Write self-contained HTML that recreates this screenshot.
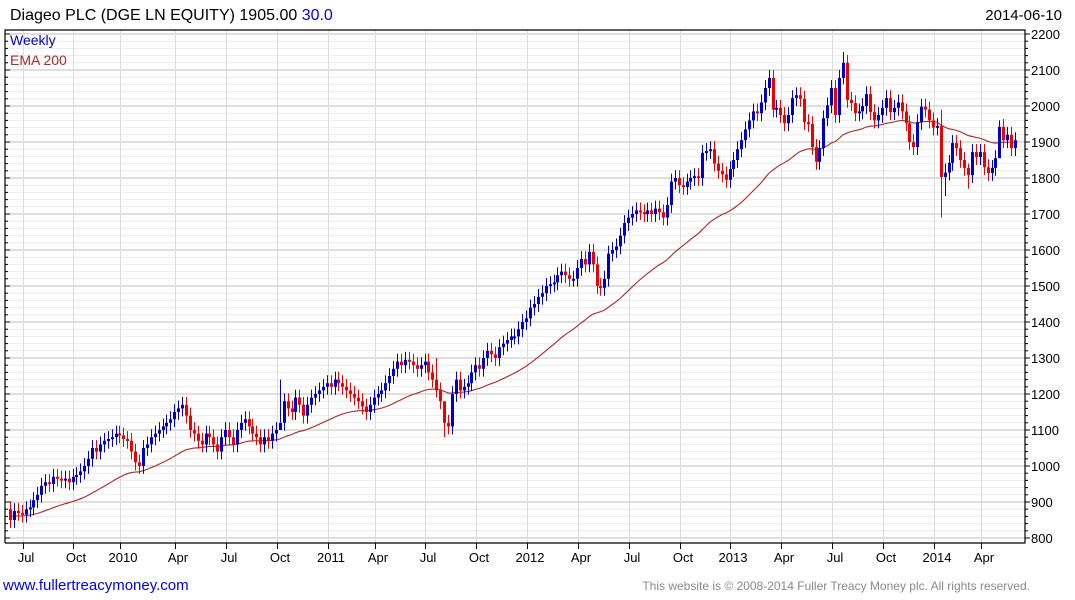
<!DOCTYPE html>
<html><head><meta charset="utf-8"><style>
body{margin:0;background:#fff;font-family:"Liberation Sans",sans-serif;}
#wrap{position:relative;width:1075px;height:600px;overflow:hidden;}
svg text{font-family:"Liberation Sans",sans-serif;}
</style></head><body>
<div id="wrap">
<svg id="chart" width="1075" height="600">
<text x="10" y="20" font-size="16" fill="#000">Diageo PLC (DGE LN EQUITY) 1905.00 <tspan fill="#0000ee">30.0</tspan></text>
<text x="1062" y="20" font-size="15" text-anchor="end" fill="#000">2014-06-10</text>
<g id="grid"></g><g id="ema"></g><g id="candles"></g><g id="axes"></g>
<text x="10" y="45" font-size="14" fill="#0000cc">Weekly</text>
<text x="10" y="65" font-size="14" fill="#a52a2a">EMA 200</text>
<text x="3" y="590" font-size="15" fill="#0000ee">www.fullertreacymoney.com</text>
<text x="1030" y="590" font-size="12" text-anchor="end" fill="#888">This website is © 2008-2014 Fuller Treacy Money plc. All rights reserved.</text>
</svg></div>
<script>
const closes=[850,875,870,865,880,885,905,920,945,955,950,970,965,
960,965,955,970,975,985,1000,1020,1050,1040,1060,1070,1075,
1080,1090,1085,1075,1070,1040,1010,1000,1050,1060,1080,1090,1100,
1110,1120,1130,1150,1160,1170,1140,1100,1090,1070,1060,1090,1080,
1060,1040,1080,1100,1080,1060,1100,1120,1130,1110,1090,1080,1060,
1080,1070,1090,1100,1120,1180,1160,1150,1190,1170,1140,1170,1190,
1200,1210,1220,1230,1220,1240,1230,1220,1210,1200,1190,1180,1165,
1150,1170,1190,1200,1210,1230,1250,1270,1290,1280,1295,1290,1280,
1270,1280,1290,1260,1240,1210,1180,1120,1110,1200,1240,1210,1220,
1230,1260,1280,1270,1300,1320,1310,1300,1330,1340,1350,1360,1360,
1380,1400,1410,1440,1450,1470,1480,1500,1505,1510,1530,1540,1530,1520,1520,1550,1575,1560,1595,1560,
1500,1495,1520,1590,1600,1610,1640,1675,1690,1700,1710,1705,1700,1710,1700,1715,1705,1690,1725,1790,
1800,1780,1775,1790,1800,1805,1800,1870,1875,1880,1840,1820,1810,1795,1825,1850,1880,1905,1935,1960,
1985,1980,2010,2050,2078,1990,1995,1975,1952,1975,2022,2030,2020,1955,1950,1886,1845,1883,1966,2002,
2050,1975,2078,2120,2017,2008,1980,1985,2000,2033,1983,1960,1975,1995,2022,1983,1995,2010,1985,1952,
1900,1886,1955,1998,1990,1960,1940,1945,1803,1815,1842,1897,1883,1850,1828,1808,1872,1858,1872,1830,
1814,1828,1855,1942,1905,1920,1883,1905];
const firstOpen=880;
const spikeIdx=[69,109,111,213,238,239,245,253];
const spikeHigh=[1240,1300,1150,2150,1990,1840,1840,1960];
const spikeLow=[1120,1190,1080,2060,1690,1750,1770,1860];
const yTicks=[800,900,1000,1100,1200,1300,1400,1500,1600,1700,1800,1900,2000,2100,2200];
const xLabels=["Jul","Oct","2010","Apr","Jul","Oct","2011","Apr","Jul","Oct","2012","Apr","Jul","Oct","2013","Apr","Jul","Oct","2014","Apr"];
const xLabelWeek=[4,17,29,43,56,69,82,94,107,120,133,146,159,172,185,198,211,224,237,249];
const emaPeriod=40;

const NS="http://www.w3.org/2000/svg";
const L=5,R=1025,T=30,B=543;
const y=v=>34+(2200-v)*0.36;
const x=i=>10+i*(1015-10)/(closes.length-1);
function mk(tag,attrs,parent){const e=document.createElementNS(NS,tag);for(const k in attrs)e.setAttribute(k,attrs[k]);parent.appendChild(e);return e;}
const grid=document.getElementById('grid'),axes=document.getElementById('axes'),cg=document.getElementById('candles'),eg=document.getElementById('ema');
for(let v=800;v<=2200;v+=20){
  const l=mk('line',{x1:L,x2:R,y1:y(v),y2:y(v),stroke:v%100===0?'#bdbdbd':'#ebebeb','stroke-width':1},grid);
  
  
  const t=mk('line',{x1:R,x2:R+(v%100===0?5:3),y1:y(v),y2:y(v),stroke:'#000'},axes);
  
  
  const t2=mk('line',{x1:L,x2:L+(v%100===0?5:3),y1:y(v),y2:y(v),stroke:'#000'},axes);
  
  
}
yTicks.forEach(v=>{const t=mk('text',{x:R+6,y:y(v)+5,'font-size':13,fill:'#000'},axes);t.textContent=v;
  
  });
xLabels.forEach((s,k)=>{const xx=Math.round(x(xLabelWeek[k]))-3;
  const g=mk('line',{x1:xx+.5,x2:xx+.5,y1:T,y2:B,stroke:'#dcdcdc'},grid);
  
  
  const tk=mk('line',{x1:xx+.5,x2:xx+.5,y1:B,y2:B+6,stroke:'#000'},axes);
  
  
  const t=mk('text',{x:xx+3,y:B+19,'font-size':13,'text-anchor':'middle',fill:'#000'},axes);t.textContent=s;
  
  });
const fr=mk('path',{d:`M${L} ${B}V${T}H${R}V${B}H${L}`,fill:'none',stroke:'#000','stroke-width':1.2},axes);


let e=closes[0],pts=[];const a=2/(emaPeriod+1);
closes.forEach((c,i)=>{e=i===0?c+10:e+a*(c-e);pts.push(x(i).toFixed(1)+','+y(e).toFixed(1));});
const pl=mk('polyline',{points:pts.join(' '),fill:'none',stroke:'#a52a2a','stroke-width':1.1},eg);


closes.forEach((c,i)=>{const o=i===0?firstOpen:closes[i-1];
  let hi=Math.max(o,c)+22,lo=Math.min(o,c)-22;const k=spikeIdx.indexOf(i);if(k>=0){hi=spikeHigh[k];lo=spikeLow[k];}
  const col=c>=o?'#0000cc':'#ee0000';const cx=Math.round(x(i))+.5;
  const w=mk('line',{x1:cx,x2:cx,y1:y(hi),y2:y(lo),stroke:col,'stroke-width':1},cg);
  
  
  const top=y(Math.max(o,c)),h=Math.max(2,y(Math.min(o,c))-top);
  const r=mk('rect',{x:cx-1.5,y:top,width:3,height:h,fill:col},cg);
  
  });
</script></body></html>
